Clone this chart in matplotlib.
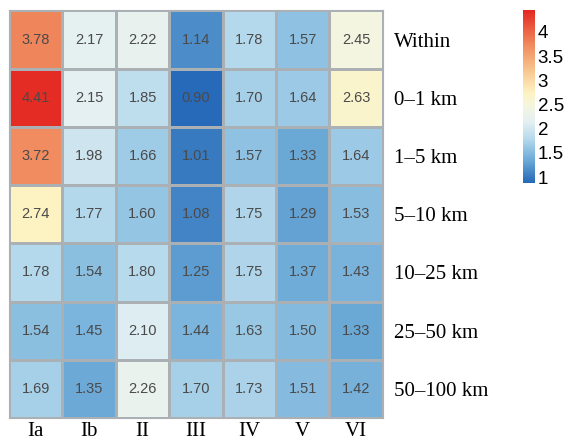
import numpy as np
import matplotlib.pyplot as plt
from matplotlib.colors import LinearSegmentedColormap

cols = ["Ia", "Ib", "II", "III", "IV", "V", "VI"]
rows = ["Within", "0\u20131 km", "1\u20135 km", "5\u201310 km", "10\u201325 km", "25\u201350 km", "50\u2013100 km"]
values = np.array([
    [3.78, 2.17, 2.22, 1.14, 1.78, 1.57, 2.45],
    [4.41, 2.15, 1.85, 0.90, 1.70, 1.64, 2.63],
    [3.72, 1.98, 1.66, 1.01, 1.57, 1.33, 1.64],
    [2.74, 1.77, 1.60, 1.08, 1.75, 1.29, 1.53],
    [1.78, 1.54, 1.80, 1.25, 1.75, 1.37, 1.43],
    [1.54, 1.45, 2.10, 1.44, 1.63, 1.50, 1.33],
    [1.69, 1.35, 2.26, 1.70, 1.73, 1.51, 1.42],
])
cbar_ticks = [1, 1.5, 2, 2.5, 3, 3.5, 4]

vmin, vmax = 0.88, 4.45
# colour stops
stops = [(0.88, "#2468b8"), (1.33, "#6aa8d6"), (1.57, "#90c2e2"), (1.78, "#b6d9ec"),
         (2.15, "#e4f0f2"), (2.45, "#f3f5e0"), (2.72, "#fdf4c4"), (3.2, "#f8c690"),
         (3.75, "#f0895c"), (4.45, "#e32822")]
cmap = LinearSegmentedColormap.from_list(
    "heat", [((v - vmin) / (vmax - vmin), c) for v, c in stops])

fig = plt.figure(figsize=(5.68, 4.44), dpi=100)
ax = fig.add_axes([0.016, 0.0586, 0.658, 0.918])
cax = fig.add_axes([0.921, 0.588, 0.021, 0.389])

mesh = ax.pcolormesh(values, cmap=cmap, vmin=vmin, vmax=vmax,
                     edgecolor="#aab0b4", linewidth=0.8)
ax.set_xlim(0, len(cols))
ax.set_ylim(len(rows), 0)

for i in range(len(rows)):
    for j in range(len(cols)):
        ax.text(j + 0.5, i + 0.5, f"{values[i, j]:.2f}", ha="center", va="center",
                fontsize=10.5, color="#4a4a4a", family="Liberation Sans")

ax.set_xticks(np.arange(len(cols)) + 0.5)
ax.set_xticklabels(cols, family="Liberation Serif", fontsize=15)
ax.set_yticks(np.arange(len(rows)) + 0.5)
ax.set_yticklabels(rows, family="Liberation Serif", fontsize=15)
ax.yaxis.tick_right()
ax.tick_params(axis="x", length=0, pad=3)
ax.tick_params(axis="y", length=0, pad=8)
for s in ax.spines.values():
    s.set_color("#aab0b4")
    s.set_linewidth(0.8)

cb = fig.colorbar(mesh, cax=cax, ticks=cbar_ticks)
cb.ax.set_yticklabels(["1", "1.5", "2", "2.5", "3", "3.5", "4"], family="Liberation Sans")
cb.ax.tick_params(length=0, labelsize=13.5, pad=2)
cb.outline.set_visible(False)

fig.savefig("out.png", dpi=100)
